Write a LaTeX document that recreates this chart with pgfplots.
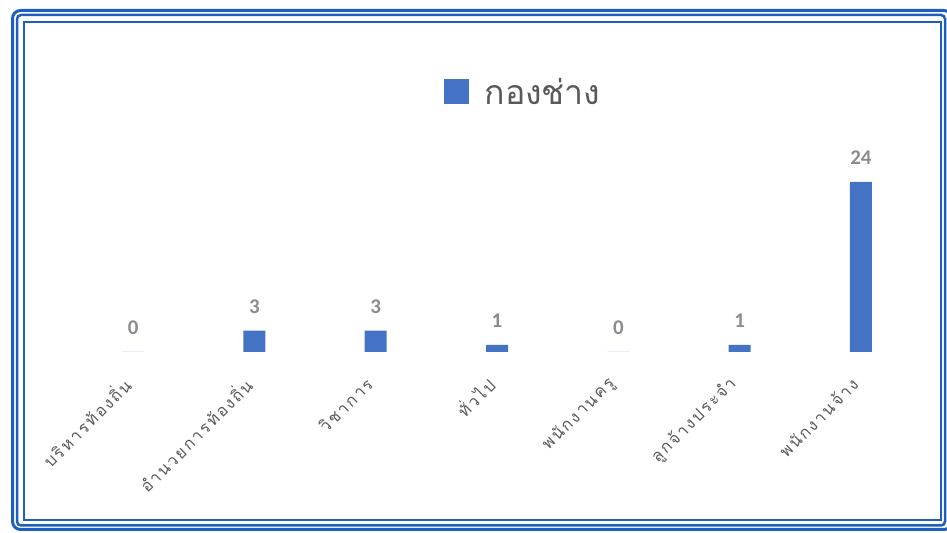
\documentclass[border=0pt]{standalone}
\usepackage{fontspec}
\usepackage{pgfplots}
\pgfplotsset{compat=1.18}
\setmainfont{Carlito}
\newfontfamily\thaifont[Script=Thai]{Loma}
\newfontfamily\thaitick[Script=Thai,LetterSpace=12]{Loma}
\definecolor{barblue}{HTML}{4472C4}
\definecolor{frameblue}{RGB}{30,95,190}
\definecolor{lblgray}{HTML}{595959}
\definecolor{valgray}{HTML}{8C8C8C}
\begin{document}
\begin{tikzpicture}[x=1bp,y=1bp]
\useasboundingbox (0,0) rectangle (947,533);
\draw[frameblue, line width=3bp, rounded corners=8bp] (12.5,3.5) rectangle (952,522.5);
\draw[frameblue, line width=2.5bp, rounded corners=4bp] (17,7.5) rectangle (945,518);
\draw[frameblue, line width=2bp] (23.5,12.5) rectangle (940.5,511);
\begin{axis}[
  at={(72.4bp,181bp)}, anchor=south west,
  scale only axis, width=849.2bp, height=212.5bp,
  xmin=-0.5, xmax=6.5, ymin=0, ymax=30,
  ybar, bar width=22bp,
  axis line style={draw=none},
  ytick=\empty,
  xtick=data,
  xticklabels={บริหารท้องถิ่น,อำนวยการท้องถิ่น,วิชาการ,ทั่วไป,พนักงานครู,ลูกจ้างประจำ,พนักงานจ้าง},
  major tick length=0pt,
  xticklabel style={font=\thaitick\fontsize{16.5}{16.5}\selectfont, text=lblgray, xshift=-6bp, rotate=45, anchor=east, inner sep=0pt},
  xticklabel shift=29bp,
  /pgf/number format/assume math mode=true,
  nodes near coords,
  every node near coord/.append style={font=\bfseries\fontsize{21}{21}\selectfont, text=valgray, anchor=south, inner sep=0pt, yshift=17bp},
  clip=false,
  legend style={at={(0.5306,1.2235)}, anchor=center, draw=none, fill=none,
    font=\thaifont\fontsize{34}{34}\selectfont, text=lblgray, column sep=14bp},
  legend image code/.code={\fill[barblue] (0bp,-12.5bp) rectangle (25bp,12.5bp);},
]
\addplot[fill=barblue, draw=none] coordinates {(0,0) (1,3) (2,3) (3,1) (4,0) (5,1) (6,24)};
\addlegendentry{กองช่าง}
\end{axis}
\end{tikzpicture}
\end{document}
